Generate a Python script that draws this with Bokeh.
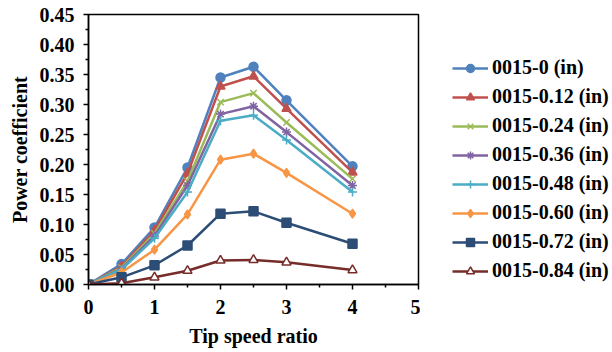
from bokeh.plotting import figure
from bokeh.layouts import row
from bokeh.models import Legend, LegendItem, Range1d, FixedTicker, NumeralTickFormatter
from bokeh.embed import file_html
from bokeh.resources import INLINE

tsr = [0, 0.5, 1, 1.5, 2, 2.5, 3, 4]
cp_0 = [0, 0.034, 0.095, 0.195, 0.345, 0.363, 0.307, 0.197]
cp_012 = [0, 0.030, 0.090, 0.185, 0.330, 0.347, 0.293, 0.187]
cp_024 = [0, 0.028, 0.085, 0.172, 0.304, 0.319, 0.270, 0.176]
cp_036 = [0, 0.026, 0.081, 0.165, 0.284, 0.297, 0.254, 0.165]
cp_048 = [0, 0.025, 0.077, 0.154, 0.273, 0.282, 0.241, 0.154]
cp_060 = [0, 0.020, 0.058, 0.117, 0.208, 0.218, 0.186, 0.118]
cp_072 = [0, 0.012, 0.032, 0.065, 0.118, 0.122, 0.103, 0.068]
cp_084 = [0, 0.002, 0.012, 0.023, 0.040, 0.041, 0.037, 0.024]

names = ["0015-0 (in)", "0015-0.12 (in)", "0015-0.24 (in)", "0015-0.36 (in)",
         "0015-0.48 (in)", "0015-0.60 (in)", "0015-0.72 (in)", "0015-0.84 (in)"]
series = [cp_0, cp_012, cp_024, cp_036, cp_048, cp_060, cp_072, cp_084]
colors = ["#4F81BD", "#C0504D", "#9BBB59", "#8064A2", "#4BACC6", "#F79646", "#2C4D75", "#772C2A"]
markers = ["circle", "triangle", "x", "asterisk", "cross", "diamond", "square", "triangle"]
x_ticks = [0, 1, 2, 3, 4, 5]
y_ticks = [0, 0.05, 0.10, 0.15, 0.20, 0.25, 0.30, 0.35, 0.40, 0.45]

FONT = "Liberation Serif"

p = figure(width=420, height=352, output_backend="svg", toolbar_location=None,
           x_range=Range1d(0, 5), y_range=Range1d(0, 0.45),
           min_border_left=88, min_border_right=2, min_border_top=14, min_border_bottom=68)
p.xgrid.visible = False
p.ygrid.visible = False
p.outline_line_color = "black"
p.outline_line_width = 1.5

# legend-only companion figure
p2 = figure(width=192, height=352, output_backend="svg", toolbar_location=None,
            x_range=Range1d(0, 1), y_range=Range1d(0, 1),
            min_border=0, min_border_left=0, min_border_right=0,
            min_border_top=0, min_border_bottom=0)
p2.axis.visible = False
p2.xgrid.visible = False
p2.ygrid.visible = False
p2.outline_line_color = None

items = []
for name, ys, c, m in zip(names, series, colors, markers):
    fill = "white" if name.endswith("0.84 (in)") else c
    p.line(tsr, ys, line_color=c, line_width=2.5)
    p.scatter(tsr, ys, marker=m, size=9, fill_color=fill, line_color=c, line_width=1.5)
    # placeholder renderers outside the visible range, only for legend glyphs
    l1 = p2.line([-10, -9], [-10, -9], line_color=c, line_width=2.5)
    l2 = p2.scatter([-10], [-10], marker=m, size=9, fill_color=fill, line_color=c, line_width=1.5)
    items.append(LegendItem(label=name, renderers=[l1, l2]))

legend = Legend(items=items, location=(32, 2), padding=0, margin=0,
                border_line_alpha=0, background_fill_alpha=0,
                glyph_width=36, glyph_height=20, label_height=20, spacing=6,
                label_standoff=4, label_text_font=FONT, label_text_font_style="bold",
                label_text_font_size="20px", label_text_color="black")
p2.add_layout(legend, "center")

for ax in (p.xaxis[0], p.yaxis[0]):
    ax.axis_line_color = "black"
    ax.axis_line_width = 1.5
    ax.major_tick_line_color = "black"
    ax.minor_tick_line_color = "black"
    ax.major_tick_line_width = 1.5
    ax.minor_tick_line_width = 1.5
    ax.major_tick_in = 0
    ax.major_tick_out = 5
    ax.minor_tick_in = 0
    ax.minor_tick_out = 3
    ax.major_label_text_font = FONT
    ax.major_label_text_font_style = "bold"
    ax.major_label_text_font_size = "20px"
    ax.major_label_text_color = "black"
    ax.axis_label_text_font = FONT
    ax.axis_label_text_font_style = "bold"
    ax.axis_label_text_font_size = "20px"
    ax.axis_label_text_color = "black"

p.xaxis[0].ticker = FixedTicker(ticks=x_ticks, minor_ticks=[0.5, 1.5, 2.5, 3.5, 4.5])
p.yaxis[0].ticker = FixedTicker(ticks=y_ticks,
                                minor_ticks=[0.025 + 0.05 * i for i in range(9)])
p.yaxis[0].formatter = NumeralTickFormatter(format="0.00")
p.xaxis[0].axis_label = "Tip speed ratio"
p.yaxis[0].axis_label = "Power coefficient"
p.xaxis[0].major_label_standoff = 10
p.yaxis[0].major_label_standoff = 9
p.xaxis[0].axis_label_standoff = 8
p.yaxis[0].axis_label_standoff = 6

layout = row(p, p2, spacing=0)
open("out.html", "w").write(file_html(layout, INLINE))
